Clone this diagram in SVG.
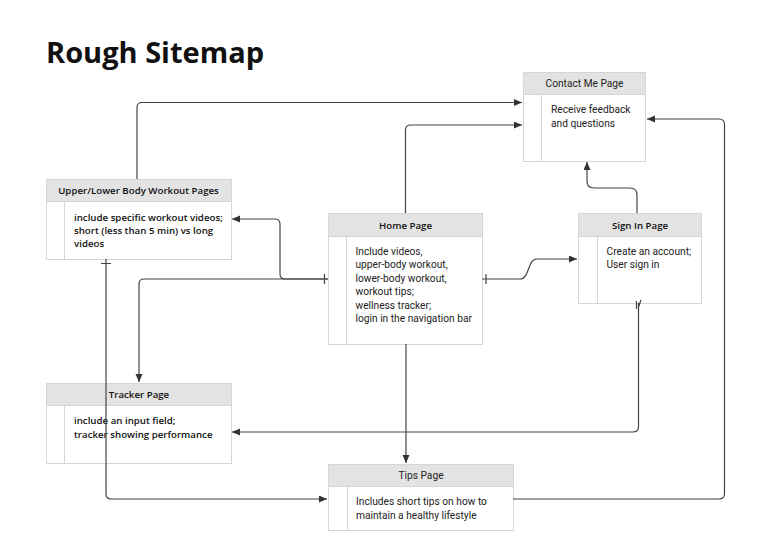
<svg xmlns="http://www.w3.org/2000/svg" width="773" height="548" viewBox="0 0 773 548">
<defs>
<marker id="arr" markerWidth="9" markerHeight="8" refX="8" refY="3.5" orient="auto" markerUnits="userSpaceOnUse">
<path d="M0,0 L8,3.5 L0,7 z" fill="#333"/>
</marker>
<style>
.box{fill:#fff;stroke:#d6d6d6;stroke-width:1}
.hdr{fill:#e3e3e3;stroke:#d6d6d6;stroke-width:1}
.div{stroke:#d6d6d6;stroke-width:1}
.t{font-family:Roboto,"Liberation Sans",sans-serif;font-size:10.2px;fill:#222}
.b{font-family:"Open Sans","Liberation Sans",sans-serif;font-size:9.7px;font-weight:600;fill:#111}
.c{stroke:#444;stroke-width:1.2;fill:none}
.a{marker-end:url(#arr)}
</style>
</defs>
<rect width="773" height="548" fill="#fff"/>
<text x="46" y="62.5" font-family="'Open Sans','Liberation Sans',sans-serif" font-size="29" font-weight="700" fill="#111">Rough Sitemap</text>

<g id="contact">
<rect class="box" x="523.5" y="72.5" width="122" height="89"/>
<rect class="hdr" x="523.5" y="72.5" width="122" height="22"/>
<line class="div" x1="541.5" y1="94.5" x2="541.5" y2="161.5"/>
<text class="t" x="584.5" y="87" text-anchor="middle">Contact Me Page</text>
<text class="t" x="551" y="113">Receive feedback</text>
<text class="t" x="551" y="126.5">and questions</text>
</g>

<g id="upperlower">
<rect class="box" x="46.5" y="179.5" width="185" height="80"/>
<rect class="hdr" x="46.5" y="179.5" width="185" height="22"/>
<line class="div" x1="64.5" y1="201.5" x2="64.5" y2="259.5"/>
<text class="b" x="138.5" y="194" text-anchor="middle">Upper/Lower Body Workout Pages</text>
<text class="b" x="74" y="220.5">include specific workout videos;</text>
<text class="b" x="74" y="234">short (less than 5 min) vs long</text>
<text class="b" x="74" y="247">videos</text>
</g>

<g id="home">
<rect class="box" x="328.5" y="213.5" width="154" height="131"/>
<rect class="hdr" x="328.5" y="213.5" width="154" height="23"/>
<line class="div" x1="346.5" y1="236.5" x2="346.5" y2="344.5"/>
<text class="b" x="405.5" y="228.5" text-anchor="middle">Home Page</text>
<text class="t" x="355.5" y="254.5">Include videos,</text>
<text class="t" x="355.5" y="268">upper-body workout,</text>
<text class="t" x="355.5" y="281.5">lower-body workout,</text>
<text class="t" x="355.5" y="295">workout tips;</text>
<text class="t" x="355.5" y="308.5">wellness tracker;</text>
<text class="t" x="355.5" y="322">login in the navigation bar</text>
</g>

<g id="signin">
<rect class="box" x="578.5" y="213.5" width="123" height="90"/>
<rect class="hdr" x="578.5" y="213.5" width="123" height="23"/>
<line class="div" x1="597.5" y1="236.5" x2="597.5" y2="303.5"/>
<text class="b" x="640" y="228.5" text-anchor="middle">Sign In Page</text>
<text class="t" x="606.5" y="254.5">Create an account;</text>
<text class="t" x="606.5" y="268">User sign in</text>
</g>

<g id="tracker">
<rect class="box" x="46.5" y="383.5" width="185" height="80"/>
<rect class="hdr" x="46.5" y="383.5" width="185" height="22"/>
<line class="div" x1="64.5" y1="405.5" x2="64.5" y2="463.5"/>
<text class="b" x="139" y="397.5" text-anchor="middle">Tracker Page</text>
<text class="b" x="74" y="424">include an input field;</text>
<text class="b" x="74" y="438">tracker showing performance</text>
</g>

<g id="tips">
<rect class="box" x="328.5" y="464.5" width="185" height="66"/>
<rect class="hdr" x="328.5" y="464.5" width="185" height="22"/>
<line class="div" x1="347.5" y1="486.5" x2="347.5" y2="530.5"/>
<text class="t" x="421" y="479" text-anchor="middle">Tips Page</text>
<text class="t" x="356" y="505">Includes short tips on how to</text>
<text class="t" x="356" y="519">maintain a healthy lifestyle</text>
</g>

<g id="connectors">
<path class="c a" d="M137,179 V107.5 Q137,102.5 142,102.5 H522"/>
<path class="c a" d="M405.5,213 V130 Q405.5,125 410.5,125 H522"/>
<path class="c a" d="M637,213 V195 Q637,188 630,188 H594 Q587,188 587,181 V162"/>
<path class="c a" d="M482,279 H520 C530,279 527,259 537,259 H577"/>
<path class="c a" d="M328,279 H285 Q280,279 280,274 V224 Q280,219 275,219 H232"/>
<path class="c a" d="M328,279 H144 Q139,279 139,284 V382"/>
<path class="c a" d="M406,344 V463"/>
<path class="c a" d="M106,259 V494 Q106,499 111,499 H327"/>
<path class="c a" d="M638.5,303 V426.5 Q638.5,432 633,432 H232"/>
<path class="c a" d="M513,499 H719 Q724.5,499 724.5,493.5 V124.5 Q724.5,119 719,119 H647"/>
<path class="c" d="M101,263.5 H111 M324.5,274 V284 M486,274 V284 M636.5,301 V309 M638.5,307 L641,300"/>
</g>
</svg>
